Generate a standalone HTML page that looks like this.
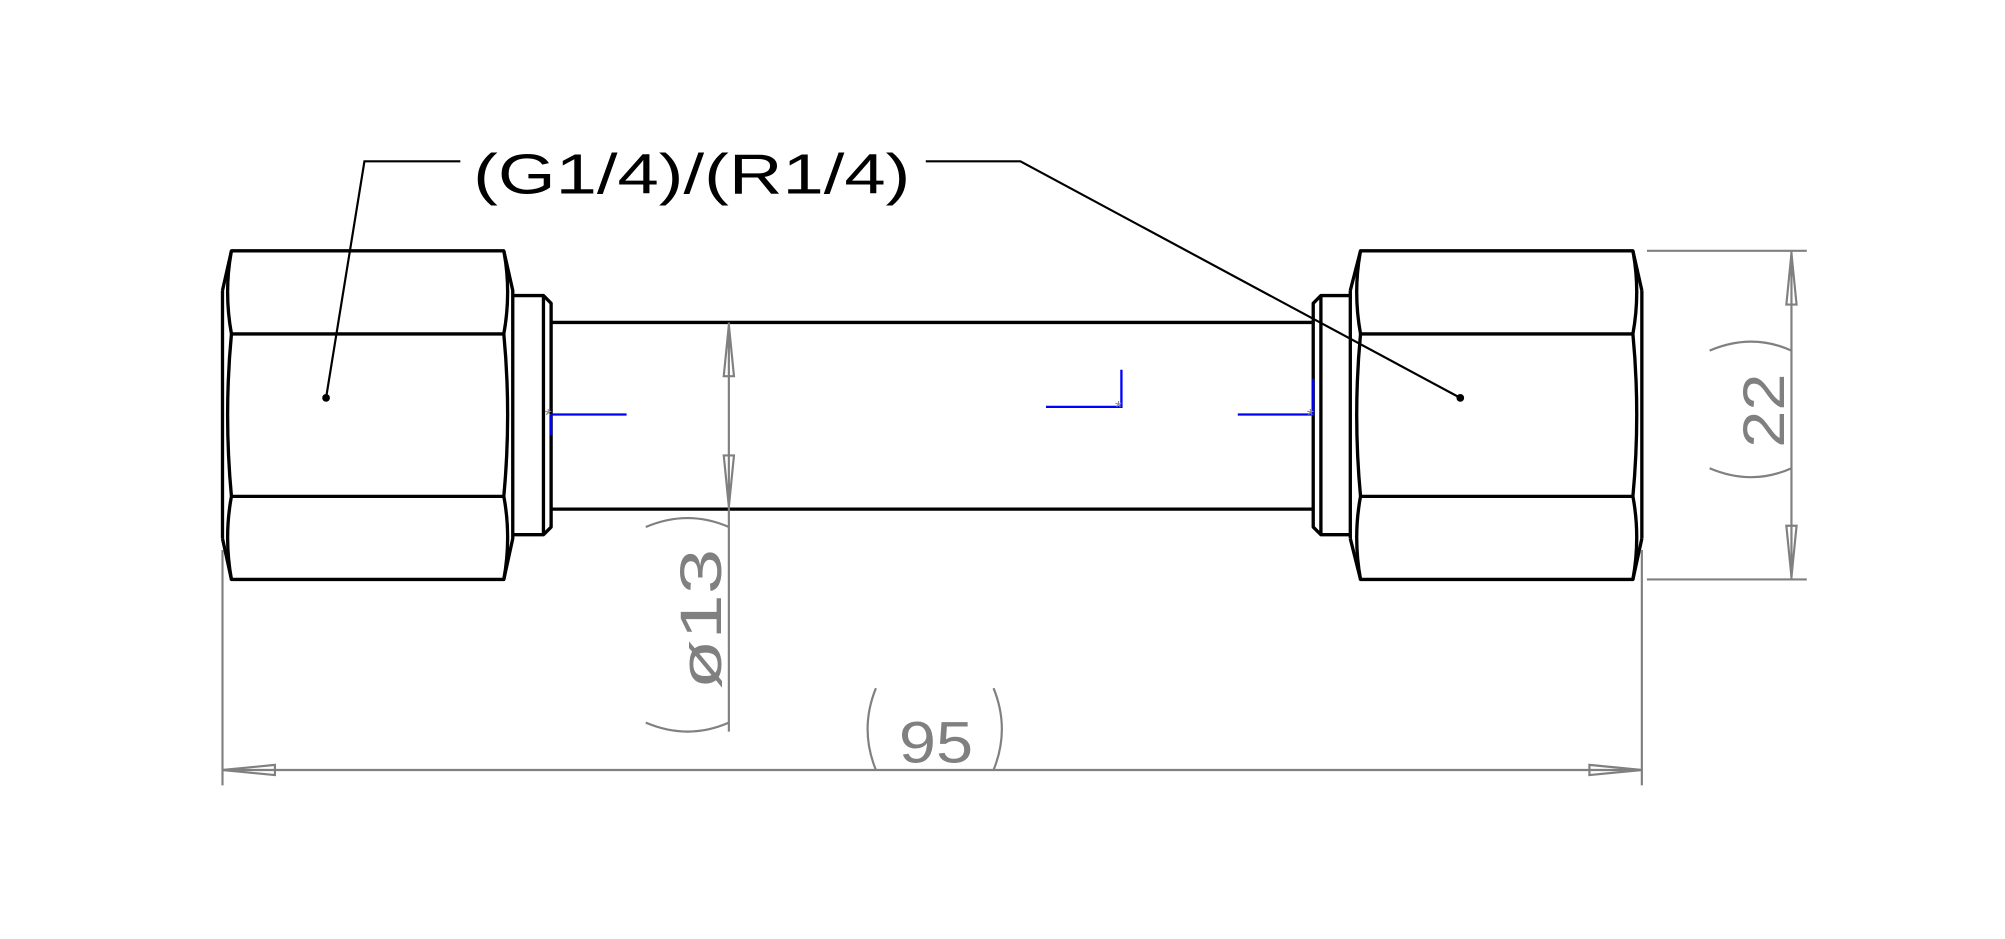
<!DOCTYPE html>
<html><head><style>html,body{margin:0;padding:0;background:#fff}svg{display:block}</style></head><body>
<svg width="2005" height="939" viewBox="0 0 1568 734" xmlns="http://www.w3.org/2000/svg" font-family="Liberation Sans, sans-serif">
<rect width="1568" height="734" fill="#fff"/>
<g fill="none" stroke="#000" stroke-width="2.6" stroke-linejoin="round">
<path d="M174,227 V421 M174,227 L181,196 H394 L401,227 V421 L394,453 H181 L174,421"/>
<path d="M181,196 Q175,228 181,261 Q175,324 181,388 Q175,420 181,453"/>
<path d="M394,196 Q400,228 394,261 Q400,324 394,388 Q400,420 394,453"/>
<path d="M181,261 H394 M181,388 H394"/>
<path d="M401,231 H425 L431,237 V412 L425,418 H401 M425,231 V418"/>
<path d="M431,252 H1027 M431,398 H1027"/>
<path d="M1056,231 H1033 L1027,237 V412 L1033,418 H1056 M1033,231 V418"/>
<path d="M1284,227 V421 M1056,227 V421 M1056,227 L1064,196 H1277 L1284,227 M1056,421 L1064,453 H1277 L1284,421"/>
<path d="M1064,196 Q1058,228 1064,261 Q1058,324 1064,388 Q1058,420 1064,453"/>
<path d="M1277,196 Q1283,228 1277,261 Q1283,324 1277,388 Q1283,420 1277,453"/>
<path d="M1064,261 H1277 M1064,388 H1277"/>
</g>
<g stroke="#000" stroke-width="1.7" fill="none">
<path d="M360,126 H285 L255,311"/>
<path d="M724,126 H798 L1142,311"/>
</g>
<circle cx="255" cy="311" r="3" fill="#000"/>
<circle cx="1142" cy="311" r="3" fill="#000"/>
<text x="370" y="151" font-size="44" fill="#000" textLength="342" lengthAdjust="spacingAndGlyphs">(G1/4)/(R1/4)</text>
<g stroke="#0000ff" stroke-width="1.8" fill="none">
<path d="M431,324 H490 M431,324 V340"/>
<path d="M818,318 H877 V289"/>
<path d="M968,324 H1027 V296"/>
</g>
<g fill="#888" font-size="14"><text x="426" y="329">*</text><text x="872" y="323">*</text><text x="1022" y="329">*</text></g>
<g stroke="#808080" stroke-width="1.7" fill="none">
<path d="M174,430 V614 M1284,430 V614 M174,602 H1284"/>
<path d="M174,602 L215,598 V606 Z M1284,602 L1243,598 V606 Z"/>
<path d="M1288,196 H1413 M1288,453 H1413 M1401,196 V453"/>
<path d="M1401,198 L1397,238 H1405 Z M1401,451 L1397,411 H1405 Z"/>
<path d="M570,252 V572 M570,254 L566,294 H574 Z M570,396 L566,356 H574 Z"/>
<path d="M685,538 Q672,570 685,602 M777,538 Q790,570 777,602"/>
<path d="M1337,274 Q1370,260 1401,274 M1337,366 Q1370,380 1401,366"/>
<path d="M505,412 Q538,398 570,412 M505,565 Q538,579 570,565"/>
</g>
<text x="703" y="596" font-size="46" fill="#808080" textLength="58" lengthAdjust="spacingAndGlyphs">95</text>
<text transform="translate(1395,321) rotate(-90)" font-size="46" fill="#808080" text-anchor="middle" textLength="58" lengthAdjust="spacingAndGlyphs">22</text>
<text transform="translate(564,484) rotate(-90)" font-size="46" fill="#808080" text-anchor="middle" textLength="110" lengthAdjust="spacingAndGlyphs">ø13</text>
</svg>
</body></html>
